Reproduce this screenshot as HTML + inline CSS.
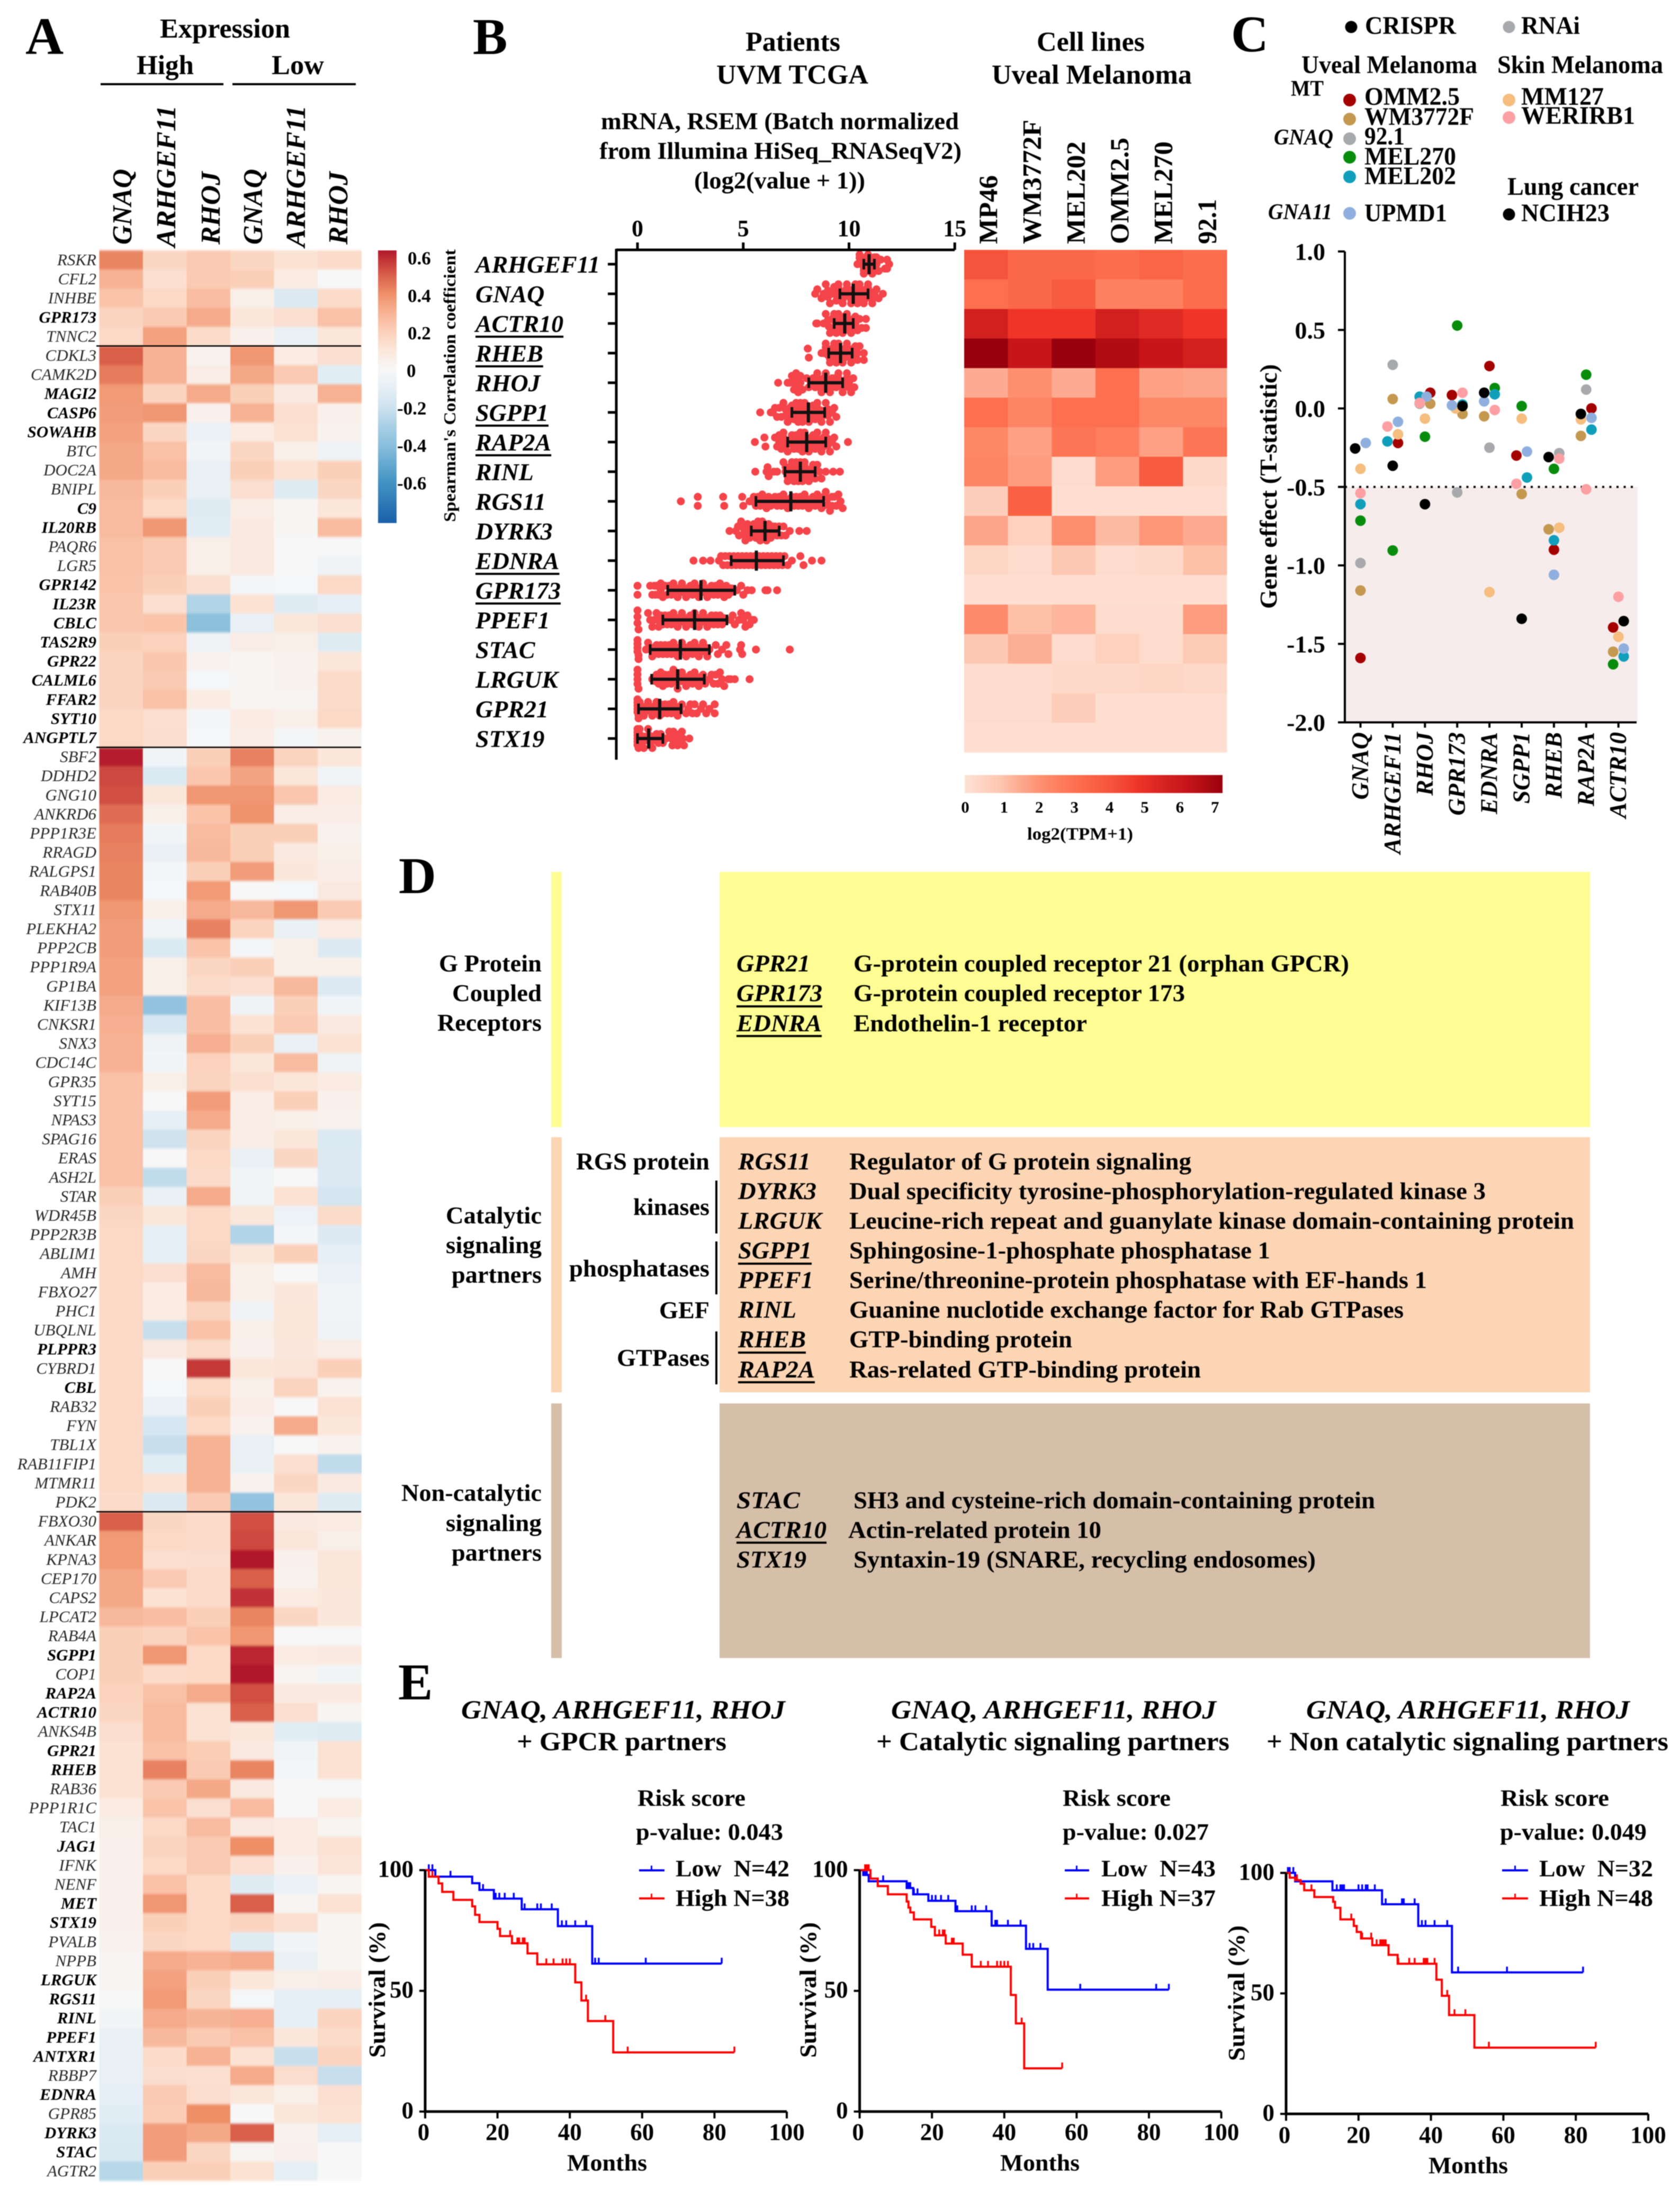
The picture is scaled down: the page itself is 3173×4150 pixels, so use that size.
<!DOCTYPE html>
<html>
<head>
<meta charset="utf-8">
<title>Multi-panel figure</title>
<style>
html,body{margin:0;padding:0;background:#fff;}
svg{display:block;font-family:"Liberation Serif",serif;filter:blur(0.8px);}
text{fill:#000;}
.b{font-weight:bold;}
.i{font-style:italic;}
.pre{white-space:pre;}
</style>
</head>
<body>
<svg id="fig" xmlns="http://www.w3.org/2000/svg" width="3173" height="4150" viewBox="0 0 3173 4150">
<defs>
<filter id="soft" x="-2%" y="-2%" width="104%" height="104%"><feGaussianBlur stdDeviation="0.6 2"/></filter>
<linearGradient id="gradA" x1="0" y1="0" x2="0" y2="1"></linearGradient>
<linearGradient id="gradB" x1="0" y1="0" x2="1" y2="0"></linearGradient>
</defs>
<rect x="0" y="0" width="3173" height="4150" fill="#fff"/>

<!-- Panel A static -->
<text class="b" x="48" y="102" font-size="100">A</text>
<text class="b" x="302" y="71" font-size="52" textLength="246" lengthAdjust="spacingAndGlyphs">Expression</text>
<text class="b" x="258" y="140" font-size="52" textLength="108" lengthAdjust="spacingAndGlyphs">High</text>
<text class="b" x="513" y="140" font-size="52" textLength="99" lengthAdjust="spacingAndGlyphs">Low</text>
<rect x="190" y="157" width="232" height="4"/>
<rect x="439" y="157" width="233" height="4"/>
<g id="heatA"></g>
<g id="heatAText"></g>
<text class="b i" transform="translate(248,462) rotate(-90)" font-size="52" textLength="143" lengthAdjust="spacingAndGlyphs">GNAQ</text>
<text class="b i" transform="translate(331,467) rotate(-90)" font-size="52" textLength="268" lengthAdjust="spacingAndGlyphs">ARHGEF11</text>
<text class="b i" transform="translate(415,462) rotate(-90)" font-size="52" textLength="138" lengthAdjust="spacingAndGlyphs">RHOJ</text>
<text class="b i" transform="translate(495,462) rotate(-90)" font-size="52" textLength="143" lengthAdjust="spacingAndGlyphs">GNAQ</text>
<text class="b i" transform="translate(576,467) rotate(-90)" font-size="52" textLength="268" lengthAdjust="spacingAndGlyphs">ARHGEF11</text>
<text class="b i" transform="translate(656,462) rotate(-90)" font-size="52" textLength="138" lengthAdjust="spacingAndGlyphs">RHOJ</text>
<rect x="714" y="473" width="35" height="515" fill="url(#gradA)"/>
<g id="colorbarATicks"></g>
<text class="b" transform="translate(860,986) rotate(-90)" font-size="32" textLength="515" lengthAdjust="spacingAndGlyphs">Spearman's Correlation coefficient</text>

<!-- Panel B static -->
<text class="b" x="893" y="102" font-size="98">B</text>
<text class="b" x="1408" y="96" font-size="52" textLength="179" lengthAdjust="spacingAndGlyphs">Patients</text>
<text class="b" x="1353" y="158" font-size="52" textLength="287" lengthAdjust="spacingAndGlyphs">UVM TCGA</text>
<text class="b" x="1135" y="244" font-size="46" textLength="676" lengthAdjust="spacingAndGlyphs">mRNA, RSEM (Batch normalized</text>
<text class="b" x="1132" y="300" font-size="46" textLength="684" lengthAdjust="spacingAndGlyphs">from Illumina HiSeq_RNASeqV2)</text>
<text class="b" x="1311" y="356" font-size="46" textLength="323" lengthAdjust="spacingAndGlyphs">(log2(value + 1))</text>
<text class="b" x="1958" y="96" font-size="52" textLength="204" lengthAdjust="spacingAndGlyphs">Cell lines</text>
<text class="b" x="1873" y="158" font-size="52" textLength="378" lengthAdjust="spacingAndGlyphs">Uveal Melanoma</text>
<g id="swarm"></g>
<g id="heatB"></g>
<g id="heatBLabels"></g>
<rect x="1822" y="1464" width="487" height="34" fill="url(#gradB)"/>
<g id="colorbarBTicks"></g>
<text class="b" x="1940" y="1586" font-size="33" textLength="200" lengthAdjust="spacingAndGlyphs">log2(TPM+1)</text>

<!-- Panel C static -->
<text class="b" x="2325" y="97" font-size="98">C</text>
<circle cx="2552" cy="51" r="11.5" fill="#000"/>
<text class="b" x="2578" y="64" font-size="48" textLength="172" lengthAdjust="spacingAndGlyphs">CRISPR</text>
<circle cx="2850" cy="51" r="11.5" fill="#a7a9ac"/>
<text class="b" x="2873" y="64" font-size="48" textLength="111" lengthAdjust="spacingAndGlyphs">RNAi</text>
<text class="b" x="2458" y="138" font-size="48" textLength="332" lengthAdjust="spacingAndGlyphs">Uveal Melanoma</text>
<text class="b" x="2828" y="138" font-size="48" textLength="313" lengthAdjust="spacingAndGlyphs">Skin Melanoma</text>
<text class="b" x="2438" y="181" font-size="42" textLength="62" lengthAdjust="spacingAndGlyphs">MT</text>
<text class="b i" x="2406" y="273" font-size="42" textLength="112" lengthAdjust="spacingAndGlyphs">GNAQ</text>
<text class="b i" x="2395" y="414" font-size="42" textLength="121" lengthAdjust="spacingAndGlyphs">GNA11</text>
<circle cx="2549" cy="189" r="12" fill="#a50000"/>
<text class="b" x="2577" y="198" font-size="48" textLength="180" lengthAdjust="spacingAndGlyphs">OMM2.5</text>
<circle cx="2549" cy="225" r="12" fill="#c4984f"/>
<text class="b" x="2577" y="236" font-size="48" textLength="207" lengthAdjust="spacingAndGlyphs">WM3772F</text>
<circle cx="2549" cy="262" r="12" fill="#a7a9ac"/>
<text class="b" x="2577" y="273" font-size="48" textLength="76" lengthAdjust="spacingAndGlyphs">92.1</text>
<circle cx="2549" cy="297" r="12" fill="#078c0c"/>
<text class="b" x="2577" y="311" font-size="48" textLength="173" lengthAdjust="spacingAndGlyphs">MEL270</text>
<circle cx="2549" cy="334" r="12" fill="#0f9fbb"/>
<text class="b" x="2577" y="348" font-size="48" textLength="173" lengthAdjust="spacingAndGlyphs">MEL202</text>
<circle cx="2549" cy="403" r="12" fill="#8fb0de"/>
<text class="b" x="2577" y="418" font-size="48" textLength="156" lengthAdjust="spacingAndGlyphs">UPMD1</text>
<circle cx="2850" cy="189" r="12" fill="#f5bd7e"/>
<text class="b" x="2873" y="198" font-size="48" textLength="156" lengthAdjust="spacingAndGlyphs">MM127</text>
<circle cx="2850" cy="222" r="12" fill="#fda0a4"/>
<text class="b" x="2873" y="234" font-size="48" textLength="215" lengthAdjust="spacingAndGlyphs">WERIRB1</text>
<text class="b" x="2847" y="368" font-size="48" textLength="248" lengthAdjust="spacingAndGlyphs">Lung cancer</text>
<circle cx="2850" cy="405" r="11.5" fill="#000"/>
<text class="b" x="2873" y="418" font-size="48" textLength="167" lengthAdjust="spacingAndGlyphs">NCIH23</text>
<g id="effect"></g>
<text class="b" transform="translate(2411,1150) rotate(-90)" font-size="46" textLength="462" lengthAdjust="spacingAndGlyphs">Gene effect (T-statistic)</text>

<!-- Panel D -->
<text class="b" x="753" y="1687" font-size="98">D</text>
<rect x="1041" y="1647" width="20" height="482" fill="#fdfd94"/>
<rect x="1359" y="1647" width="1644" height="482" fill="#fdfd94"/>
<rect x="1041" y="2148" width="20" height="482" fill="#fcd5b5"/>
<rect x="1359" y="2148" width="1644" height="482" fill="#fcd5b5"/>
<rect x="1041" y="2651" width="20" height="481" fill="#d5bfa9"/>
<rect x="1359" y="2651" width="1644" height="481" fill="#d5bfa9"/>

<g class="b" font-size="46">
<text x="829" y="1835" textLength="194" lengthAdjust="spacingAndGlyphs">G Protein</text>
<text x="854" y="1891" textLength="169" lengthAdjust="spacingAndGlyphs">Coupled</text>
<text x="826" y="1947" textLength="197" lengthAdjust="spacingAndGlyphs">Receptors</text>
<text x="842" y="2311" textLength="181" lengthAdjust="spacingAndGlyphs">Catalytic</text>
<text x="842" y="2367" textLength="181" lengthAdjust="spacingAndGlyphs">signaling</text>
<text x="853" y="2423" textLength="170" lengthAdjust="spacingAndGlyphs">partners</text>
<text x="758" y="2835" textLength="265" lengthAdjust="spacingAndGlyphs">Non-catalytic</text>
<text x="842" y="2892" textLength="181" lengthAdjust="spacingAndGlyphs">signaling</text>
<text x="853" y="2948" textLength="170" lengthAdjust="spacingAndGlyphs">partners</text>
<text x="1088" y="2209" textLength="252" lengthAdjust="spacingAndGlyphs">RGS protein</text>
<text x="1196" y="2295" textLength="144" lengthAdjust="spacingAndGlyphs">kinases</text>
<text x="1075" y="2411" textLength="265" lengthAdjust="spacingAndGlyphs">phosphatases</text>
<text x="1245" y="2490" textLength="95" lengthAdjust="spacingAndGlyphs">GEF</text>
<text x="1165" y="2580" textLength="175" lengthAdjust="spacingAndGlyphs">GTPases</text>
</g>
<rect x="1351" y="2230" width="4" height="100"/>
<rect x="1351" y="2345" width="4" height="100"/>
<rect x="1351" y="2515" width="4" height="100"/>

<g class="b i" font-size="46">
<text x="1391" y="1835" textLength="139" lengthAdjust="spacingAndGlyphs">GPR21</text>
<text x="1391" y="1891" textLength="162" lengthAdjust="spacingAndGlyphs">GPR173</text>
<text x="1391" y="1948" textLength="161" lengthAdjust="spacingAndGlyphs">EDNRA</text>
<text x="1394" y="2209" textLength="137" lengthAdjust="spacingAndGlyphs">RGS11</text>
<text x="1394" y="2265" textLength="148" lengthAdjust="spacingAndGlyphs">DYRK3</text>
<text x="1394" y="2321" textLength="158" lengthAdjust="spacingAndGlyphs">LRGUK</text>
<text x="1394" y="2377" textLength="139" lengthAdjust="spacingAndGlyphs">SGPP1</text>
<text x="1394" y="2433" textLength="142" lengthAdjust="spacingAndGlyphs">PPEF1</text>
<text x="1394" y="2489" textLength="110" lengthAdjust="spacingAndGlyphs">RINL</text>
<text x="1394" y="2545" textLength="128" lengthAdjust="spacingAndGlyphs">RHEB</text>
<text x="1394" y="2602" textLength="145" lengthAdjust="spacingAndGlyphs">RAP2A</text>
<text x="1391" y="2849" textLength="120" lengthAdjust="spacingAndGlyphs">STAC</text>
<text x="1391" y="2905" textLength="170" lengthAdjust="spacingAndGlyphs">ACTR10</text>
<text x="1391" y="2961" textLength="132" lengthAdjust="spacingAndGlyphs">STX19</text>
</g>
<g>
<rect x="1391" y="1899" width="162" height="4"/>
<rect x="1391" y="1955" width="161" height="4"/>
<rect x="1394" y="2385" width="139" height="4"/>
<rect x="1394" y="2553" width="128" height="4"/>
<rect x="1394" y="2609" width="145" height="4"/>
<rect x="1391" y="2912" width="170" height="4"/>
</g>
<g class="b" font-size="46">
<text x="1612" y="1835" textLength="936" lengthAdjust="spacingAndGlyphs">G-protein coupled receptor 21 (orphan GPCR)</text>
<text x="1612" y="1891" textLength="626" lengthAdjust="spacingAndGlyphs">G-protein coupled receptor 173</text>
<text x="1612" y="1948" textLength="441" lengthAdjust="spacingAndGlyphs">Endothelin-1 receptor</text>
<text x="1604" y="2209" textLength="646" lengthAdjust="spacingAndGlyphs">Regulator of G protein signaling</text>
<text x="1604" y="2265" textLength="1202" lengthAdjust="spacingAndGlyphs">Dual specificity tyrosine-phosphorylation-regulated kinase 3</text>
<text x="1604" y="2321" textLength="1369" lengthAdjust="spacingAndGlyphs">Leucine-rich repeat and guanylate kinase domain-containing protein</text>
<text x="1604" y="2377" textLength="795" lengthAdjust="spacingAndGlyphs">Sphingosine-1-phosphate phosphatase 1</text>
<text x="1604" y="2433" textLength="1091" lengthAdjust="spacingAndGlyphs">Serine/threonine-protein phosphatase with EF-hands 1</text>
<text x="1604" y="2489" textLength="1047" lengthAdjust="spacingAndGlyphs">Guanine nuclotide exchange factor for Rab GTPases</text>
<text x="1604" y="2545" textLength="421" lengthAdjust="spacingAndGlyphs">GTP-binding protein</text>
<text x="1604" y="2602" textLength="664" lengthAdjust="spacingAndGlyphs">Ras-related GTP-binding protein</text>
<text x="1612" y="2849" textLength="985" lengthAdjust="spacingAndGlyphs">SH3 and cysteine-rich domain-containing protein</text>
<text x="1602" y="2905" textLength="478" lengthAdjust="spacingAndGlyphs">Actin-related protein 10</text>
<text x="1612" y="2961" textLength="873" lengthAdjust="spacingAndGlyphs">Syntaxin-19 (SNARE, recycling endosomes)</text>
</g>

<!-- Panel E -->
<text class="b" x="752" y="3210" font-size="98">E</text>

<text class="b i" x="871" y="3246" font-size="50" textLength="612" lengthAdjust="spacingAndGlyphs">GNAQ, ARHGEF11, RHOJ</text>
<text class="b" x="976" y="3306" font-size="50" textLength="396" lengthAdjust="spacingAndGlyphs">+ GPCR partners</text>
<text class="b" x="1204" y="3411" font-size="44" textLength="204" lengthAdjust="spacingAndGlyphs">Risk score</text>
<text class="b" x="1201" y="3475" font-size="44" textLength="278" lengthAdjust="spacingAndGlyphs">p-value: 0.043</text>
<rect x="1207" y="3531" width="48" height="4" fill="#00f"/>
<rect x="1229" y="3524" width="3" height="8" fill="#00f"/>
<text class="b pre" x="1276" y="3544" font-size="44" textLength="215" lengthAdjust="spacingAndGlyphs">Low  N=42</text>
<rect x="1207" y="3584" width="48" height="4" fill="#f00"/>
<rect x="1229" y="3577" width="3" height="8" fill="#f00"/>
<text class="b" x="1276" y="3600" font-size="44" textLength="215" lengthAdjust="spacingAndGlyphs">High N=38</text>
<text class="b" transform="translate(727,3887) rotate(-90)" font-size="44" textLength="256" lengthAdjust="spacingAndGlyphs">Survival (%)</text>
<text class="b" x="1071" y="4100" font-size="44" textLength="151" lengthAdjust="spacingAndGlyphs">Months</text>
<g id="km1"></g>

<text class="b i" x="1683" y="3246" font-size="50" textLength="614" lengthAdjust="spacingAndGlyphs">GNAQ, ARHGEF11, RHOJ</text>
<text class="b" x="1655" y="3306" font-size="50" textLength="667" lengthAdjust="spacingAndGlyphs">+ Catalytic signaling partners</text>
<text class="b" x="2007" y="3411" font-size="44" textLength="204" lengthAdjust="spacingAndGlyphs">Risk score</text>
<text class="b" x="2007" y="3475" font-size="44" textLength="276" lengthAdjust="spacingAndGlyphs">p-value: 0.027</text>
<rect x="2011" y="3531" width="46" height="4" fill="#00f"/>
<rect x="2032" y="3524" width="3" height="8" fill="#00f"/>
<text class="b pre" x="2080" y="3544" font-size="44" textLength="216" lengthAdjust="spacingAndGlyphs">Low  N=43</text>
<rect x="2011" y="3584" width="46" height="4" fill="#f00"/>
<rect x="2032" y="3577" width="3" height="8" fill="#f00"/>
<text class="b" x="2080" y="3600" font-size="44" textLength="216" lengthAdjust="spacingAndGlyphs">High N=37</text>
<text class="b" transform="translate(1541,3887) rotate(-90)" font-size="44" textLength="256" lengthAdjust="spacingAndGlyphs">Survival (%)</text>
<text class="b" x="1889" y="4100" font-size="44" textLength="150" lengthAdjust="spacingAndGlyphs">Months</text>
<g id="km2"></g>

<text class="b i" x="2467" y="3246" font-size="50" textLength="611" lengthAdjust="spacingAndGlyphs">GNAQ, ARHGEF11, RHOJ</text>
<text class="b" x="2392" y="3306" font-size="50" textLength="759" lengthAdjust="spacingAndGlyphs">+ Non catalytic signaling partners</text>
<text class="b" x="2834" y="3411" font-size="44" textLength="205" lengthAdjust="spacingAndGlyphs">Risk score</text>
<text class="b" x="2833" y="3475" font-size="44" textLength="277" lengthAdjust="spacingAndGlyphs">p-value: 0.049</text>
<rect x="2837" y="3531" width="49" height="4" fill="#00f"/>
<rect x="2860" y="3524" width="3" height="8" fill="#00f"/>
<text class="b pre" x="2907" y="3544" font-size="44" textLength="215" lengthAdjust="spacingAndGlyphs">Low  N=32</text>
<rect x="2837" y="3584" width="49" height="4" fill="#f00"/>
<rect x="2860" y="3577" width="3" height="8" fill="#f00"/>
<text class="b" x="2907" y="3600" font-size="44" textLength="215" lengthAdjust="spacingAndGlyphs">High N=48</text>
<text class="b" transform="translate(2350,3893) rotate(-90)" font-size="44" textLength="256" lengthAdjust="spacingAndGlyphs">Survival (%)</text>
<text class="b" x="2698" y="4105" font-size="44" textLength="150" lengthAdjust="spacingAndGlyphs">Months</text>
<g id="km3"></g>
</svg>

<script>
/* ---------- Panel A data ---------- */
const heatGenes = ["RSKR","CFL2","INHBE","GPR173","TNNC2",
"CDKL3","CAMK2D","MAGI2","CASP6","SOWAHB","BTC","DOC2A","BNIPL","C9","IL20RB","PAQR6","LGR5","GPR142","IL23R","CBLC","TAS2R9","GPR22","CALML6","FFAR2","SYT10","ANGPTL7",
"SBF2","DDHD2","GNG10","ANKRD6","PPP1R3E","RRAGD","RALGPS1","RAB40B","STX11","PLEKHA2","PPP2CB","PPP1R9A","GP1BA","KIF13B","CNKSR1","SNX3","CDC14C","GPR35","SYT15","NPAS3","SPAG16","ERAS","ASH2L","STAR","WDR45B","PPP2R3B","ABLIM1","AMH","FBXO27","PHC1","UBQLNL","PLPPR3","CYBRD1","CBL","RAB32","FYN","TBL1X","RAB11FIP1","MTMR11","PDK2",
"FBXO30","ANKAR","KPNA3","CEP170","CAPS2","LPCAT2","RAB4A","SGPP1","COP1","RAP2A","ACTR10","ANKS4B","GPR21","RHEB","RAB36","PPP1R1C","TAC1","JAG1","IFNK","NENF","MET","STX19","PVALB","NPPB","LRGUK","RGS11","RINL","PPEF1","ANTXR1","RBBP7","EDNRA","GPR85","DYRK3","STAC","AGTR2"];
const heatBoldGenes = ["GPR173","MAGI2","CASP6","SOWAHB","C9","IL20RB","GPR142","IL23R","CBLC","TAS2R9","GPR22","CALML6","FFAR2","SYT10","ANGPTL7","PLPPR3","CBL","SGPP1","RAP2A","ACTR10","GPR21","RHEB","JAG1","MET","STX19","LRGUK","RGS11","RINL","PPEF1","ANTXR1","EDNRA","DYRK3","STAC"];
const heatValues = [
[.42,.17,.22,.17,.12,.15],[.30,.13,.22,.2,.07,0],[.24,.16,.26,.05,-.14,.15],[.18,.22,.32,.1,.13,.25],[.16,.35,.15,.04,-.08,.1],
[.5,.3,.03,.38,.07,.13],[.44,.3,.06,.33,.22,-.12],[.37,.18,.32,.2,.08,.3],[.36,.38,.04,.3,.13,.04],[.35,.17,-.07,.07,.12,.03],[.33,.25,-.03,.17,.05,-.05],[.33,.27,-.09,.2,.12,.2],[.28,.2,-.08,.13,-.13,.17],[.27,.16,-.13,.06,.02,.1],[.27,.38,-.12,.08,.01,.27],[.25,.22,.05,.08,0,0],[.25,.22,.05,.08,0,-.05],[.24,.2,.13,-.02,-.01,.16],[.23,.13,-.28,.12,-.13,-.1],[.23,.24,-.4,-.09,.1,.13],[.2,.19,-.05,.06,.05,-.13],[.18,.23,.03,.02,.03,.1],[.18,.22,-.01,.01,.03,.15],[.18,.25,.07,.02,.02,.15],[.16,.13,-.02,.07,.05,.16],[.16,.14,-.01,.06,-.02,.03],
[.62,-.04,.2,.43,.18,.1],[.54,-.15,.23,.34,.1,-.04],[.53,.1,.38,.38,.23,.07],[.47,.05,.24,.39,.06,.06],[.44,-.03,.27,.2,.2,.03],[.43,-.08,.28,.2,.08,.05],[.42,-.02,.2,.36,.09,.06],[.42,-.01,.37,0,-.01,.08],[.38,.05,.32,.28,.38,.22],[.36,-.04,.43,.18,-.08,.07],[.36,-.15,.24,-.02,.05,-.14],[.35,.05,.17,.2,.05,.05],[.35,.05,.15,.13,.28,-.14],[.32,-.38,.26,-.05,.2,-.04],[.31,-.17,.26,.12,.22,.08],[.3,-.05,.31,.2,-.08,.12],[.3,-.03,.19,.1,.27,-.05],[.25,.05,.18,.13,.1,.07],[.25,0,.36,.06,.2,.04],[.25,-.1,.32,.06,.05,.03],[.25,-.2,.18,.06,.1,-.15],[.25,0,.16,-.08,.17,-.14],[.25,-.24,.15,-.03,0,-.14],[.2,-.08,.32,-.04,.12,-.18],[.17,.1,.16,.1,-.06,.15],[.16,-.1,.16,-.28,-.02,-.14],[.16,-.1,.17,.1,.2,-.1],[.16,.13,.27,.05,0,-.07],[.16,.07,.28,.05,.09,-.04],[.16,.07,.18,-.05,.1,-.04],[.16,-.22,.25,.05,.1,-.05],[.16,.08,.15,.04,.09,.06],[.16,0,.57,.1,.11,.2],[.16,-.01,.16,.05,.18,.03],[.16,-.07,.2,.06,0,.12],[.16,-.17,.16,.03,.32,.1],[.16,-.22,.3,-.09,0,.03],[.16,-.12,.3,-.08,.13,-.24],[.16,.12,.3,.03,.17,.08],[.15,-.14,.22,-.38,.1,-.13],
[.5,.17,.15,.53,.08,.07],[.37,.16,.15,.54,.1,.05],[.37,.13,.14,.63,.04,.1],[.33,.22,.15,.5,.03,.1],[.33,.12,.15,.58,.07,.09],[.28,.26,.2,.42,.17,.09],[.2,.18,.24,.38,0,0],[.2,.38,.16,.6,.07,.08],[.2,.15,.16,.63,.02,-.03],[.19,.25,.32,.53,.08,.08],[.17,.27,.12,.5,.13,.02],[.14,.27,.12,.1,-.12,-.13],[.12,.25,.21,.08,-.04,.12],[.12,.43,.22,.42,-.02,.12],[.12,.22,.33,.08,0,0],[.07,.24,.13,.27,0,.07],[.05,.16,.27,.08,.07,.02],[.04,.18,.22,.4,.07,.12],[.04,.16,.22,.13,.04,.11],[.04,.25,.16,-.13,-.07,.02],[.04,.38,.16,.5,.01,.12],[.04,.2,.16,.18,.13,.02],[.03,.17,.16,-.13,-.03,.02],[.02,.32,.3,.32,-.08,.02],[.02,.35,.2,.1,.05,.06],[0,.37,.17,-.01,-.1,-.1],[-.03,.32,.29,.31,-.1,.18],[-.08,.28,.22,.25,.1,.15],[-.09,.15,.3,.12,-.22,.18],[-.09,.14,.13,.32,.14,-.22],[-.1,.22,.14,.1,.05,.13],[-.12,.21,.4,0,.1,.12],[-.15,.36,.33,.5,.03,-.1],[-.16,.36,.17,.02,.04,0],[-.26,.2,.2,.12,-.1,0]];
const groupDividerRows = [5,26,66];
const colorbarATickValues = [0.6,0.4,0.2,0,-0.2,-0.4,-0.6];
const colorbarATickLabels = ["0.6","0.4","0.2","0","-0.2","-0.4","-0.6"];

/* ---------- Panel B data ---------- */
const swarmGenes = ["ARHGEF11","GNAQ","ACTR10","RHEB","RHOJ","SGPP1","RAP2A","RINL","RGS11","DYRK3","EDNRA","GPR173","PPEF1","STAC","LRGUK","GPR21","STX19"];
const swarmUnderlined = ["ACTR10","RHEB","SGPP1","RAP2A","EDNRA","GPR173"];
const swarmTicks = [0,5,10,15];
const swarmMeans = [10.95,10.2,9.8,9.6,8.9,8.08,8.0,7.7,7.25,6.03,5.62,3.0,2.7,2.03,1.9,1.05,0.53];
const swarmLower = [10.7,9.57,9.3,9.04,8.1,7.3,7.1,6.97,5.6,5.38,4.43,1.43,1.2,0.6,0.67,0.05,0];
const swarmUpper = [11.2,10.9,10.2,10.15,9.7,8.85,8.9,8.4,8.8,6.7,6.9,4.6,4.23,3.4,3.16,2.06,1.2];
const swarmARHGEF11 = [10.4,10.5,10.5,10.6,10.6,10.7,10.7,10.7,10.8,10.8,10.8,10.9,10.9,10.9,10.9,11,11,11,11,11,11.1,11.1,11.1,11.2,11.2,11.2,11.3,11.3,11.4,11.5,11.7,11.8,11.8,11.9];
const swarmGNAQ = [8.4,8.5,8.7,8.8,8.9,9,9,9.1,9.2,9.3,9.3,9.4,9.5,9.5,9.6,9.6,9.7,9.7,9.8,9.9,9.9,10,10,10.1,10.1,10.2,10.2,10.3,10.3,10.4,10.4,10.5,10.5,10.6,10.6,10.7,10.7,10.8,10.8,10.9,10.9,11,11,11.1,11.1,11.2,11.3,11.4,11.6];
const swarmACTR10 = [8.45,8.5,8.8,8.9,9,9.05,9.1,9.2,9.2,9.3,9.3,9.4,9.4,9.5,9.5,9.5,9.6,9.6,9.7,9.7,9.8,9.8,9.8,9.9,9.9,10,10,10,10.1,10.1,10.2,10.2,10.3,10.3,10.4,10.5,10.6,10.8,10.8];
const swarmRHEB = [8.05,8.1,8.7,8.8,8.9,8.9,9,9,9.1,9.1,9.2,9.2,9.3,9.3,9.4,9.4,9.5,9.5,9.6,9.6,9.6,9.7,9.7,9.8,9.8,9.9,9.9,10,10,10.1,10.1,10.2,10.2,10.3,10.4,10.4,10.5,10.7,10.7];
const swarmRHOJ = [6.65,7.1,7.2,7.3,7.4,7.4,7.5,7.5,7.6,7.6,7.7,7.7,7.8,8,8.1,8.2,8.3,8.4,8.5,8.5,8.6,8.6,8.7,8.8,8.8,8.9,8.9,9,9,9.1,9.2,9.2,9.3,9.4,9.5,9.5,9.6,9.7,9.7,9.8,9.9,9.9,10,10,10.1,10.2,10.25];
const swarmSGPP1 = [5.8,6.3,6.4,6.5,6.6,6.7,6.8,6.9,7,7,7.1,7.2,7.2,7.3,7.3,7.4,7.5,7.5,7.6,7.6,7.7,7.7,7.8,7.8,7.9,8,8,8.1,8.1,8.2,8.2,8.3,8.4,8.4,8.5,8.5,8.6,8.7,8.7,8.8,8.9,9,9,9.1,9.2,9.3,9.4];
const swarmRAP2A = [5.55,6,6.05,6.5,6.6,6.7,6.7,6.8,6.9,6.9,7,7,7.1,7.2,7.3,7.3,7.4,7.5,7.5,7.6,7.7,7.7,7.8,7.8,7.9,8,8,8.1,8.2,8.2,8.3,8.4,8.4,8.5,8.5,8.6,8.7,8.8,8.8,8.9,9,9,9.1,9.2,9.3,9.4,9.95];
const swarmRINL = [5.57,6.1,6.15,6.2,6.45,6.6,6.9,7,7,7.1,7.1,7.2,7.2,7.3,7.3,7.4,7.4,7.5,7.5,7.6,7.6,7.7,7.7,7.8,7.8,7.9,7.9,8,8,8.1,8.1,8.2,8.3,8.3,8.4,8.5,8.6,8.7,8.9,9.25,9.57];
const swarmRGS11 = [2.05,2.85,2.85,4.05,4.1,4.95,5,5.3,5.4,5.5,5.6,5.7,5.8,5.9,6,6.1,6.2,6.3,6.4,6.5,6.6,6.7,6.8,6.9,7,7.1,7.2,7.3,7.4,7.5,7.6,7.7,7.8,7.9,8,8.1,8.2,8.3,8.4,8.5,8.6,8.7,8.8,8.8,8.9,9,9,9.1,9.2,9.2,9.3,9.4,9.5,9.6,9.7];
const swarmDYRK3 = [4.35,4.65,4.75,4.8,4.9,5,5,5.1,5.2,5.2,5.3,5.4,5.4,5.5,5.6,5.6,5.7,5.7,5.8,5.8,5.9,5.9,6,6,6.1,6.1,6.2,6.3,6.3,6.4,6.4,6.5,6.6,6.7,6.8,6.9,7,7.2,7.65,8];
const swarmEDNRA = [2.65,3.1,3.45,3.85,3.95,4.05,4.15,4.25,4.35,4.45,4.55,4.65,4.75,4.85,4.95,5.05,5.15,5.25,5.35,5.45,5.55,5.65,5.75,5.85,5.95,6.05,6.15,6.25,6.35,6.45,6.55,6.65,6.75,6.85,6.95,7.1,7.3,7.7,7.85,8.25,8.7];
const swarmGPR173 = [0,0,.6,.7,.8,.85,.9,1,1.1,1.1,1.2,1.3,1.4,1.5,1.6,1.7,1.8,1.9,2,2.1,2.2,2.3,2.4,2.5,2.6,2.7,2.8,2.9,3,3.1,3.2,3.3,3.4,3.5,3.6,3.7,3.8,3.9,4,4.1,4.2,4.3,4.4,4.5,4.7,4.9,5,5.2,5.4,6.05,6.15,6.6];
const swarmPPEF1 = [0,0,0,.05,.5,.6,.7,.8,.9,1,1,1.1,1.2,1.3,1.4,1.5,1.6,1.7,1.8,1.9,2,2.1,2.2,2.3,2.4,2.5,2.6,2.7,2.8,2.9,3,3.1,3.2,3.3,3.4,3.5,3.6,3.7,3.8,3.9,4,4.2,4.4,4.5,4.6,4.8,4.9,5,5.1,5.2,5.3,5.4,5.5];
const swarmSTAC = [0,0,0,0,.05,.05,.4,.5,.6,.7,.8,.9,1,1.1,1.2,1.3,1.4,1.5,1.6,1.7,1.8,1.9,2,2.1,2.2,2.3,2.4,2.5,2.6,2.7,2.8,2.9,3,3.1,3.2,3.3,3.4,3.7,3.8,4,4.2,4.3,4.85,4.9,4.95,5.6,7.2];
const swarmLRGUK = [0,0,0,0,.05,.7,.8,.9,1,1.1,1.1,1.2,1.3,1.4,1.5,1.6,1.7,1.8,1.9,1.9,2,2.1,2.2,2.3,2.4,2.5,2.6,2.7,2.8,2.9,3,3.1,3.2,3.4,3.5,3.6,3.7,3.8,3.9,4,4.1,4.3,4.4,4.6,5.3];
const swarmGPR21 = [0,0,0,0,0,.05,.05,.1,.2,.3,.4,.5,.6,.7,.8,.9,1,1.05,1.1,1.2,1.3,1.4,1.5,1.6,1.7,1.8,1.9,2,2.1,2.3,2.4,2.5,2.6,2.7,2.8,3,3.1,3.25,3.4,3.65,3.65];
const swarmSTX19 = [0,0,0,0,0,0,.05,.1,.15,.2,.3,.4,.5,.55,.6,.7,.8,.9,1,1.1,1.2,1.35,1.5,1.6,1.65,1.7,1.8,1.9,2,2.05,2.1,2.15,2.2,2.45];
const swarmValues = [swarmARHGEF11,swarmGNAQ,swarmACTR10,swarmRHEB,swarmRHOJ,swarmSGPP1,swarmRAP2A,swarmRINL,swarmRGS11,swarmDYRK3,swarmEDNRA,swarmGPR173,swarmPPEF1,swarmSTAC,swarmLRGUK,swarmGPR21,swarmSTX19];

const cellLines = ["MP46","WM3772F","MEL202","OMM2.5","MEL270","92.1"];
const cellLineLabelLengths = [130,235,194,201,194,85];
const tpmValues = [
[4,3.3,3.3,3.1,3.4,3.1],[3,3.3,3.7,2.5,2.5,3.1],[5.5,4.7,4.7,5.5,5.1,4.7],[7,6,7,6.5,6,5.5],
[1.5,2.1,1.5,3,1.7,1.6],[3,2.4,3,3,2.3,2.3],[2.3,1.7,2.8,2.6,1.7,2.8],[2.4,1.8,.2,1.8,3.7,.3],
[.7,3.5,.1,.1,.1,.1],[1.6,.6,2.1,1.2,1.9,1.5],[.4,.2,.9,.2,.3,1.1],[.1,.1,.1,.1,.1,.1],
[2.2,1.1,1.3,.2,.2,1.8],[.9,1.4,.2,.6,.2,.8],[.2,.2,.3,.3,.4,.3],[.2,.2,.7,.1,.1,.1],[.1,.1,.1,.1,.1,.1]];
const colorbarBTicks = [0,1,2,3,4,5,6,7];

/* ---------- Panel C data ---------- */
const effectGenes = ["GNAQ","ARHGEF11","RHOJ","GPR173","EDNRA","SGPP1","RHEB","RAP2A","ACTR10"];
const effectTicks = [1,0.5,0,-0.5,-1,-1.5,-2];
const effectTickLabels = ["1.0","0.5","0.0","-0.5","-1.0","-1.5","-2.0"];
const effectThreshold = -0.5;
const effectOMM25 = [-1.59,-.22,.10,.085,.27,-.30,-.90,0,-1.395];
const effectWM3772F = [-1.16,.06,.03,-.035,-.05,-.545,-.77,-.175,-1.55];
const effect921 = [-.985,.278,.03,-.535,-.25,null,-.285,.12,null];
const effectMEL270 = [-.715,-.905,-.18,.528,.13,.015,-.385,.215,-1.63];
const effectMEL202 = [-.61,-.21,.075,.025,.09,-.44,-.84,-.135,-1.58];
const effectUPMD1 = [-.22,-.085,.075,.02,.045,-.275,-1.06,-.06,-1.53];
const effectMM127 = [-.385,-.165,-.065,0,-1.17,-.065,-.76,-.07,-1.455];
const effectWERIRB1 = [-.54,-.115,.035,.10,-.01,-.48,-.32,-.515,-1.20];
const effectNCIH23 = [-.255,-.365,-.61,.015,.10,-1.34,-.31,-.035,-1.355];

/* ---------- Panel E data ---------- */
const kmXTicks = [0,20,40,60,80,100];
const kmYTicks = [0,50,100];
const km1LowMonths = [0,2.8,13,15,19,26.7,36.7,46.2,82];
const km1LowSurvival = [100,97.3,94.6,91.8,88.2,83.8,76.8,61.3,61.3];
const km1LowCensor = [1,2,7,16,19.5,20.5,22,24.5,27.5,31,32,35,37.8,39,41.5,44.5,47,48,61,82];
const km1HighMonths = [0,1,3.7,4.7,7.8,13,13.8,15,20,20.7,24,28.3,31,41.5,43.2,45,52,85.5];
const km1HighSurvival = [100,97.3,94.5,91,87.7,85,81.5,78.5,75.7,72.7,69.7,65.5,61,53.5,46,37.5,24.5,24.5];
const km1HighCensor = [2,23.5,25.5,26,27,27.5,33.5,35.5,38,39,40,41.5,44.5,49.8,56,85.5];
const km2LowMonths = [0,1,2.5,13,14.8,19,26.5,36.5,46,52,85.5];
const km2LowSurvival = [100,98,95.4,92.6,90,87.3,83,77,67.4,50.5,50.5];
const km2LowCensor = [1.5,2,6.5,13.5,14,15,16,19,20,21,22.5,24.5,27,31,32,35,37.5,38,41,44.5,47,48,50,61,82,85.5];
const km2HighMonths = [0,3,5,7.8,13,13.5,14,15,19.8,20.8,23.8,28.5,31,41.8,43.2,45.5,56];
const km2HighSurvival = [100,96.5,93.4,90,87,84.5,82.5,79.6,76.5,73,69.6,65,60,48.3,36.5,17.9,17.9];
const km2HighCensor = [1.5,2,2.5,3,22,23,23.5,25.5,26,33.5,35.5,38,39,40,41,44.8,56];
const km3LowMonths = [0,2.5,12.8,26.5,36.5,45.8,82];
const km3LowSurvival = [100,96.5,92.8,87,78,58.7,58.7];
const km3LowCensor = [.5,1,2,14,15,15.5,16,20,21,22,22.5,24.5,27.5,32,32.5,35.5,37.5,38.5,41,44.5,47.5,61,82];
const km3HighMonths = [0,1,2.5,4,5,7.8,13,13.5,15,18.7,19.5,20.7,23.8,28.3,30.8,41.5,43,45,52,85.5];
const km3HighSurvival = [100,98,97,95.5,92.8,90,88,85.5,80.7,78,75.5,72.8,70,66,62.3,55.7,49,41,27.5,27.5];
const km3HighCensor = [3,7,18,21,23.5,25,26,26.5,27,27.5,31,34,35.5,38,38.5,39,41,44.5,46.5,49.5,56,85.5];

/* ---------- colour ramps ---------- */
const divergingLevels = [-.82,-.6,-.4,-.3,-.2,-.1,0,.1,.2,.3,.4,.5,.63];
const divergingColors = ["#1a5fa8","#4393c3","#8cc0dd","#a9d0e5","#cfe3ef","#e6eff5","#f7f7f7","#fbe6da","#fbd0b9","#f7b294","#ee8f68","#d95f4a","#b2182b"];
const redsLevels = [0,1,1.5,2,2.5,3,3.5,4,4.7,5.5,6,6.5,7];
const redsColors = ["#fee2d5","#fdc5ae","#fdaa90","#fd9272","#fd8060","#fc7050","#fa6244","#f5533b","#ee3528","#d2201f","#c8151a","#b00c12","#99000d"];

const SVGNS = "http://www.w3.org/2000/svg";
function hexToRgb(h){return [parseInt(h.slice(1,3),16),parseInt(h.slice(3,5),16),parseInt(h.slice(5,7),16)];}
function ramp(levels,colors,v){
  if(v<=levels[0])return colors[0];
  for(let i=1;i<levels.length;i++){
    if(v<=levels[i]){
      const t=(v-levels[i-1])/(levels[i]-levels[i-1]);
      const a=hexToRgb(colors[i-1]),b=hexToRgb(colors[i]);
      return "rgb("+a.map((c,k)=>Math.round(c+(b[k]-c)*t)).join(",")+")";
    }
  }
  return colors[colors.length-1];
}
function mk(tag,attrs,parent){
  const el=document.createElementNS(SVGNS,tag);
  for(const k in attrs)el.setAttribute(k,attrs[k]);
  parent.appendChild(el);
  return el;
}

/* ---------- gradients ---------- */
const gradA=document.getElementById("gradA");
for(let i=divergingLevels.length-1;i>=0;i--){
  const s=mk("stop",{offset:(0.63-divergingLevels[i])/(0.63+0.82),"stop-color":divergingColors[i]},gradA);
  
  
}
const gradB=document.getElementById("gradB");
redsLevels.forEach((lv,i)=>{
  const s=mk("stop",{offset:lv/7,"stop-color":redsColors[i]},gradB);
  
  
});

/* ---------- Panel A ---------- */
const heatX=c=>187.5+c*82.5, heatY=r=>473+r*36.1;
const gA=document.getElementById("heatA");
const gAInner=mk("g",{filter:"url(#soft)"},gA);


heatValues.forEach((row,r)=>row.forEach((v,c)=>{
  const cell=mk("rect",{x:heatX(c),y:heatY(r),width:83,height:36.6,fill:ramp(divergingLevels,divergingColors,v)},gAInner);
  
  
}));
const gAT=document.getElementById("heatAText");
heatGenes.forEach((g,r)=>{
  const bold=heatBoldGenes.includes(g);
  const t=mk("text",{x:182,y:heatY(r)+28,"text-anchor":"end","font-size":31,"font-style":"italic","font-weight":bold?"bold":"normal",style:"fill:"+(bold?"#000":"#2a2a2a")},gAT);
  t.textContent=g;
  
  
});
groupDividerRows.forEach(r=>{
  const l=mk("line",{x1:182,x2:682,y1:heatY(r),y2:heatY(r),stroke:"#000","stroke-width":2.5},gAT);
  
  
});
const cbAY=v=>700-v*354;
const gCA=document.getElementById("colorbarATicks");
colorbarATickValues.forEach((v,i)=>{
  const lab=colorbarATickLabels[i];
  const t=mk("text",{x:lab.startsWith("-")?750:(lab==="0"?768:770),y:cbAY(v)+12,"font-size":35,"font-weight":"bold"},gCA);
  t.textContent=lab;
  
  
});

/* ---------- Panel B ---------- */
const bX=v=>1204+v*39.95, bY=i=>499+i*56;
const gS=document.getElementById("swarm");
function swarmOffsets(vals){
  const sorted=vals.map((v,i)=>({v,i})).sort((a,b)=>a.v-b.v);
  const bins={};
  sorted.forEach(p=>{const k=Math.round(p.v/0.2);(bins[k]=bins[k]||[]).push(p);});
  const offs=[];
  Object.values(bins).forEach(list=>{
    const n=list.length, base=n===2?17:13;
    const sp=n>1?Math.min(base,36/(n-1)):0;
    list.forEach((p,k)=>{offs[p.i]=(k-(n-1)/2)*sp;});
  });
  return offs;
}
swarmGenes.forEach((g,i)=>{
  const y=bY(i);
  const vals=swarmValues[i];
  const offs=swarmOffsets(vals);
  vals.forEach((v,k)=>{
    const dot=mk("circle",{cx:bX(v),cy:y+offs[k],r:7.5,fill:"#f4444a"},gS);
    
    
  });
  const core=mk("rect",{x:bX(swarmLower[i]),y:y-11,width:bX(swarmUpper[i])-bX(swarmLower[i]),height:22,rx:6,fill:"#f4444a"},gS);
  
  
  const bar=mk("line",{x1:bX(swarmLower[i]),x2:bX(swarmUpper[i]),y1:y,y2:y,stroke:"#111","stroke-width":6},gS);
  
  
  [swarmLower[i],swarmUpper[i]].forEach(e=>{
    const cap=mk("line",{x1:bX(e),x2:bX(e),y1:y-10,y2:y+10,stroke:"#111","stroke-width":5},gS);
    
    
  });
  const mean=mk("line",{x1:bX(swarmMeans[i]),x2:bX(swarmMeans[i]),y1:y-19,y2:y+19,stroke:"#111","stroke-width":6},gS);
  
  
  const tick=mk("line",{x1:1148,x2:1164,y1:y,y2:y,stroke:"#000","stroke-width":5},gS);
  
  
  const lab=mk("text",{x:898,y:y+16,"font-size":46,"font-weight":"bold","font-style":"italic"},gS);
  lab.textContent=g;
  
  
  if(swarmUnderlined.includes(g)){
    const w=lab.getComputedTextLength();
    const u=mk("rect",{x:898,y:y+23,width:w,height:4,fill:"#000"},gS);
    
    
  }
});
const bXAxis=mk("path",{d:"M1164 472H"+bX(15)+"M1164 470V1435",stroke:"#000","stroke-width":5,fill:"none"},gS);


swarmTicks.forEach(v=>{
  const tk=mk("line",{x1:bX(v),x2:bX(v),y1:458,y2:472,stroke:"#000","stroke-width":5},gS);
  
  
  const t=mk("text",{x:bX(v),y:446,"text-anchor":"middle","font-size":44,"font-weight":"bold"},gS);
  t.textContent=v;
  
  
});

/* cell-line heatmap */
const hbX=c=>1821+c*82.67, hbY=r=>472+r*55.83;
const gB=document.getElementById("heatB");
tpmValues.forEach((row,r)=>row.forEach((v,c)=>{
  const cell=mk("rect",{x:hbX(c),y:hbY(r),width:83.2,height:56.3,fill:ramp(redsLevels,redsColors,v)},gB);
  
  
}));
const gBL=document.getElementById("heatBLabels");
cellLines.forEach((n,c)=>{
  const t=mk("text",{transform:"translate("+(hbX(c)+62)+",461) rotate(-90)","font-size":50,"font-weight":"bold",textLength:cellLineLabelLengths[c],lengthAdjust:"spacingAndGlyphs"},gBL);
  t.textContent=n;
  
  
});
const cbBX=v=>1822+v*66.4;
const gCB=document.getElementById("colorbarBTicks");
colorbarBTicks.forEach(v=>{
  const t=mk("text",{x:cbBX(v)+ (v===0?1:8),y:1535,"text-anchor":"middle","font-size":31,"font-weight":"bold"},gCB);
  t.textContent=v;
  
  
});

/* ---------- Panel C ---------- */
const cX=i=>2569.5+i*60.9, cY=v=>771.5-v*296.5;
const gE=document.getElementById("effect");
const shade=mk("rect",{x:2540,y:cY(effectThreshold),width:553,height:cY(-2)-cY(effectThreshold),fill:"#f6ecec"},gE);


const thr=mk("line",{x1:2540,x2:3093,y1:cY(effectThreshold),y2:cY(effectThreshold),stroke:"#000","stroke-width":4,"stroke-dasharray":"4 9.5"},gE);


const cAxes=mk("path",{d:"M2540 "+cY(1)+"V"+cY(-2)+"H3091",stroke:"#000","stroke-width":4,fill:"none"},gE);


effectTicks.forEach((v,i)=>{
  const tk=mk("line",{x1:2527,x2:2540,y1:cY(v),y2:cY(v),stroke:"#000","stroke-width":4},gE);
  
  
  const t=mk("text",{x:2503,y:cY(v)+16,"text-anchor":"end","font-size":46,"font-weight":"bold"},gE);
  t.textContent=effectTickLabels[i];
  
  
});
const effectSeries=[[effectOMM25,"#a50000"],[effectWM3772F,"#c4984f"],[effect921,"#a7a9ac"],[effectMEL270,"#078c0c"],[effectMEL202,"#0f9fbb"],[effectMM127,"#f5bd7e"],[effectUPMD1,"#8fb0de"],[effectWERIRB1,"#fda0a4"],[effectNCIH23,"#000000"]];
/* swarm-style dodge: isolated points stay centred, neighbouring points fan out left and right */
function dodge(geneIndex){
  const pts=[];
  effectSeries.forEach(([arr,col],s)=>{if(arr[geneIndex]!==null)pts.push({v:arr[geneIndex],s});});
  pts.sort((a,b)=>b.v-a.v);
  const clusters=[];
  pts.forEach(p=>{
    const y=cY(p.v);
    const last=clusters[clusters.length-1];
    if(last&&y-last[last.length-1].y<15)last.push({s:p.s,y});
    else clusters.push([{s:p.s,y}]);
  });
  const placed=[];
  clusters.forEach(cl=>{
    if(cl.length===1){placed.push({s:cl[0].s,off:0});return;}
    if(cl.length===2){
      placed.push({s:cl[0].s,off:10});
      placed.push({s:cl[1].s,off:-10});
      return;
    }
    const used=[];
    cl.forEach((q,k)=>{
      const sign=k%2===0?1:-1;
      const cand=[10*sign,-10*sign,3*sign,-3*sign,18*sign,-18*sign];
      let off=cand[0];
      for(const c of cand){
        if(used.every(u=>Math.hypot(u.off-c,u.y-q.y)>=9)){off=c;break;}
      }
      used.push({off,y:q.y});
      placed.push({s:q.s,off});
    });
  });
  return placed;
}
const dodged=effectGenes.map((g,i)=>dodge(i));
effectSeries.forEach(([arr,col],s)=>{
  arr.forEach((v,i)=>{
    if(v===null)return;
    const p=dodged[i].find(q=>q.s===s);
    const dot=mk("circle",{cx:cX(i)+p.off,cy:cY(v),r:10,fill:col},gE);
    
    
  });
});
effectGenes.forEach((g,i)=>{
  const tk=mk("line",{x1:cX(i),x2:cX(i),y1:cY(-2),y2:cY(-2)+10,stroke:"#000","stroke-width":4},gE);
  
  
  const t=mk("text",{transform:"translate("+(cX(i)+14.5)+",1383) rotate(-90)","text-anchor":"end","font-size":45,"font-weight":"bold","font-style":"italic"},gE);
  t.textContent=g;
  
  
});

/* ---------- Panel E ---------- */
function survivalAt(months,survival,m){
  let s=survival[0];
  for(let i=0;i<months.length;i++){if(months[i]<=m)s=survival[i];}
  return s;
}
function stepPath(months,survival,X,Y){
  let d="M"+X(months[0])+" "+Y(survival[0]);
  for(let i=1;i<months.length;i++){
    d+="H"+X(months[i])+"V"+Y(survival[i]);
  }
  return d;
}
function drawKM(id,x0,xPerMonth,y100,y0,labelShift,series){
  const g=document.getElementById(id);
  const X=m=>x0+m*xPerMonth, Y=s=>y0-(y0-y100)*s/100;
  series.forEach(([months,survival,censor,col])=>{
    const line=mk("path",{d:stepPath(months,survival,X,Y),stroke:col,"stroke-width":4,fill:"none"},g);
    
    
    censor.forEach(m=>{
      const yy=Y(survivalAt(months,survival,m));
      const tk=mk("line",{x1:X(m),x2:X(m),y1:yy,y2:yy-11,stroke:col,"stroke-width":3.5},g);
      
      
    });
  });
  const axes=mk("path",{d:"M"+x0+" "+y100+"V"+y0+"H"+X(100),stroke:"#000","stroke-width":5,fill:"none"},g);
  
  
  kmXTicks.forEach(m=>{
    const tk=mk("line",{x1:X(m),x2:X(m),y1:y0,y2:y0+13,stroke:"#000","stroke-width":4},g);
    
    
    const t=mk("text",{x:X(m)-(m===0?3:0),y:y0+54+labelShift,"text-anchor":"middle","font-size":45,"font-weight":"bold"},g);
    t.textContent=m;
    
    
  });
  kmYTicks.forEach(s=>{
    const tk=mk("line",{x1:x0-11,x2:x0,y1:Y(s),y2:Y(s),stroke:"#000","stroke-width":4},g);
    
    
    const t=mk("text",{x:x0-22,y:Y(s)+13,"text-anchor":"end","font-size":45,"font-weight":"bold"},g);
    t.textContent=s;
    
    
  });
}
drawKM("km1",803,6.83,3532.6,3988.6,0,[[km1LowMonths,km1LowSurvival,km1LowCensor,"#0000ff"],[km1HighMonths,km1HighSurvival,km1HighCensor,"#ff0000"]]);
drawKM("km2",1623.6,6.83,3532.6,3988.6,0,[[km2LowMonths,km2LowSurvival,km2LowCensor,"#0000ff"],[km2HighMonths,km2HighSurvival,km2HighCensor,"#ff0000"]]);
drawKM("km3",2429,6.84,3537.8,3993,1,[[km3LowMonths,km3LowSurvival,km3LowCensor,"#0000ff"],[km3HighMonths,km3HighSurvival,km3HighCensor,"#ff0000"]]);
</script>
</body>
</html>
